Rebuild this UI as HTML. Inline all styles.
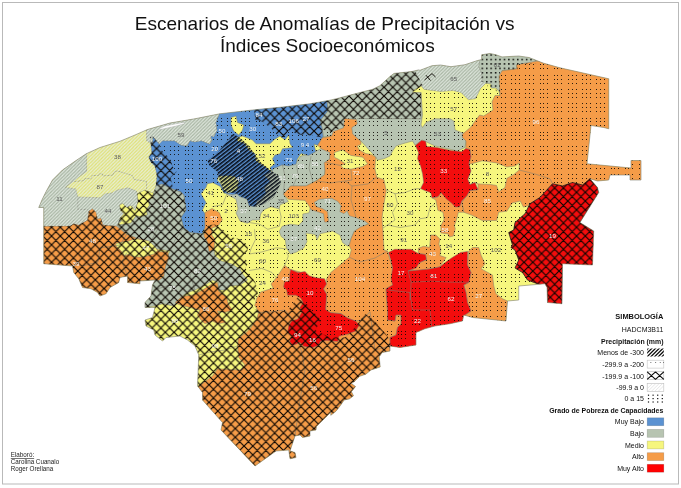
<!DOCTYPE html><html><head><meta charset="utf-8"><title>Mapa</title><style>
html,body{margin:0;padding:0;background:#fff;}body{width:681px;height:488px;overflow:hidden;position:relative;font-family:"Liberation Sans",sans-serif;}
svg{position:absolute;left:0;top:0;will-change:transform;opacity:0.999;}
text{font-family:"Liberation Sans",sans-serif;}
</style></head><body>
<svg width="681" height="488" viewBox="0 0 681 488">
<defs>
<pattern id="pDots" x="0" y="4" width="71" height="71" patternUnits="userSpaceOnUse"><path d="M0 0.5h1M4 0.5h1M8 0.5h1M14 0.5h1M18 0.5h1M22 0.5h1M28 0.5h1M32 0.5h1M36 0.5h1M43 0.5h1M46 0.5h1M50 0.5h1M57 0.5h1M60 0.5h1M64 0.5h1M0 4.5h1M4 4.5h1M8 4.5h1M14 4.5h1M18 4.5h1M22 4.5h1M28 4.5h1M32 4.5h1M36 4.5h1M43 4.5h1M46 4.5h1M50 4.5h1M57 4.5h1M60 4.5h1M64 4.5h1M0 8.5h1M4 8.5h1M8 8.5h1M14 8.5h1M18 8.5h1M22 8.5h1M28 8.5h1M32 8.5h1M36 8.5h1M43 8.5h1M46 8.5h1M50 8.5h1M57 8.5h1M60 8.5h1M64 8.5h1M0 14.5h1M4 14.5h1M8 14.5h1M14 14.5h1M18 14.5h1M22 14.5h1M28 14.5h1M32 14.5h1M36 14.5h1M43 14.5h1M46 14.5h1M50 14.5h1M57 14.5h1M60 14.5h1M64 14.5h1M0 18.5h1M4 18.5h1M8 18.5h1M14 18.5h1M18 18.5h1M22 18.5h1M28 18.5h1M32 18.5h1M36 18.5h1M43 18.5h1M46 18.5h1M50 18.5h1M57 18.5h1M60 18.5h1M64 18.5h1M0 22.5h1M4 22.5h1M8 22.5h1M14 22.5h1M18 22.5h1M22 22.5h1M28 22.5h1M32 22.5h1M36 22.5h1M43 22.5h1M46 22.5h1M50 22.5h1M57 22.5h1M60 22.5h1M64 22.5h1M0 28.5h1M4 28.5h1M8 28.5h1M14 28.5h1M18 28.5h1M22 28.5h1M28 28.5h1M32 28.5h1M36 28.5h1M43 28.5h1M46 28.5h1M50 28.5h1M57 28.5h1M60 28.5h1M64 28.5h1M0 32.5h1M4 32.5h1M8 32.5h1M14 32.5h1M18 32.5h1M22 32.5h1M28 32.5h1M32 32.5h1M36 32.5h1M43 32.5h1M46 32.5h1M50 32.5h1M57 32.5h1M60 32.5h1M64 32.5h1M0 36.5h1M4 36.5h1M8 36.5h1M14 36.5h1M18 36.5h1M22 36.5h1M28 36.5h1M32 36.5h1M36 36.5h1M43 36.5h1M46 36.5h1M50 36.5h1M57 36.5h1M60 36.5h1M64 36.5h1M0 43.5h1M4 43.5h1M8 43.5h1M14 43.5h1M18 43.5h1M22 43.5h1M28 43.5h1M32 43.5h1M36 43.5h1M43 43.5h1M46 43.5h1M50 43.5h1M57 43.5h1M60 43.5h1M64 43.5h1M0 46.5h1M4 46.5h1M8 46.5h1M14 46.5h1M18 46.5h1M22 46.5h1M28 46.5h1M32 46.5h1M36 46.5h1M43 46.5h1M46 46.5h1M50 46.5h1M57 46.5h1M60 46.5h1M64 46.5h1M0 50.5h1M4 50.5h1M8 50.5h1M14 50.5h1M18 50.5h1M22 50.5h1M28 50.5h1M32 50.5h1M36 50.5h1M43 50.5h1M46 50.5h1M50 50.5h1M57 50.5h1M60 50.5h1M64 50.5h1M0 57.5h1M4 57.5h1M8 57.5h1M14 57.5h1M18 57.5h1M22 57.5h1M28 57.5h1M32 57.5h1M36 57.5h1M43 57.5h1M46 57.5h1M50 57.5h1M57 57.5h1M60 57.5h1M64 57.5h1M0 60.5h1M4 60.5h1M8 60.5h1M14 60.5h1M18 60.5h1M22 60.5h1M28 60.5h1M32 60.5h1M36 60.5h1M43 60.5h1M46 60.5h1M50 60.5h1M57 60.5h1M60 60.5h1M64 60.5h1M0 64.5h1M4 64.5h1M8 64.5h1M14 64.5h1M18 64.5h1M22 64.5h1M28 64.5h1M32 64.5h1M36 64.5h1M43 64.5h1M46 64.5h1M50 64.5h1M57 64.5h1M60 64.5h1M64 64.5h1" stroke="#0e0a04" stroke-opacity="0.88" stroke-width="1" fill="none"/></pattern>
<pattern id="pBold" x="3.1" y="1.15" width="4.43" height="4.43" patternUnits="userSpaceOnUse"><rect x="0" y="0" width="1.5" height="1.5" fill="#0a0a08"/></pattern>
<pattern id="pDense" width="10" height="3" patternUnits="userSpaceOnUse" patternTransform="rotate(-38)"><rect x="0" y="0" width="10" height="1.6" fill="#060a14"/></pattern>
<pattern id="pCross" x="7.8" y="-0.2" width="8.75" height="8.75" patternUnits="userSpaceOnUse"><path d="M-1,1 L1,-1 M0,8.75 L8.75,0 M7.75,9.75 L9.75,7.75 M-1,7.75 L1,9.75 M0,0 L8.75,8.75 M7.75,-1 L9.75,1" stroke="#0a0400" stroke-width="1.16"/></pattern>
<pattern id="pLight" width="3.4" height="3.4" patternUnits="userSpaceOnUse"><path d="M-1,1 L1,-1 M0,3.4 L3.4,0 M2.4,4.4 L4.4,2.4" stroke="#e6ece4" stroke-opacity="0.88" stroke-width="1.25"/><path d="M0.7,-1 L-1,0.7 M1.7,3.4 L5.1,0 M-1.7,3.4 L1.7,0 M0,5.1 L3.4,1.7" stroke="#203020" stroke-opacity="0.11" stroke-width="1.15"/></pattern>
<clipPath id="crosszones"><polygon points="150,137 153,136.7 159.3,144 162.3,151 170.6,159.3 172.6,166.5 176.7,171.7 170.6,177.8 172.6,186 180.8,191.2 184,196.3 186,210 181,217.5 183.75,227.5 190,232.5 202.5,233.75 203,230 209,225 215,224.5 223.4,230 231.6,237.3 241.1,239.6 248.3,245.8 247.3,251 242.3,256.2 248.5,262.3 245.4,268.5 251.6,276.7 255.7,282.9 257.8,293.2 254.7,299.3 252.6,306.5 254.7,309.6 277.3,311.7 287.6,310.7 297.5,297.5 300.9,300.4 307.1,304.5 312.2,311.7 318.4,315.8 320.5,322 315,330 330,337.5 345,337.5 355,327.5 365,313.75 375,321 380,327.5 387.5,336 390,342.5 395,360 395,480 30,480 30,226 70,226 73.75,223.75 78.75,225 87.5,220 88.75,211 92.5,208.75 96.25,212.5 97.5,218.75 101,218 103,225 116.4,226 117.5,225 119.5,218.8 123.6,213.6 120.6,210.6 119.5,205.4 122.6,203.4 126.7,207.5 130.8,205.4 135,210.6 138,201.3 137,194 144.2,190 153.5,193 155.9,185.8 156.9,175.5 154.9,166.3 150.7,162 148.7,157 151.8,152.9 150.7,143.6"/><polygon points="254,100 254,110.4 255.4,120 262,121.4 271.6,128.8 278.2,136.1 284,138.3 288.5,130.2 298.7,134.6 310.5,135.4 319.3,136.8 322.3,137.8 322.3,129.5 331.5,132.3 333.4,130.4 343.5,126.8 344,118.5 357.3,118.5 421,118.75 421,92.5 412.5,92.5 422.5,85 417.5,76 415,70 415,60 253.75,60"/><polygon points="552.5,183.75 562.5,186 572.5,182.5 582.5,185 590,178.75 597.5,187.5 598.75,192.5 580,222.5 593.75,231 600,270 562.5,270 562,310 547.5,310 547,287.5 546,286 537.5,283.75 527.5,280 522.5,272.5 515,268 518.75,260 515,250 511,247.5 512.5,245 508.75,232.5 513.75,230 515,222.5 525,213.75 530,203.75 540,197.5"/></clipPath>
<clipPath id="state"><polygon points="38.75,207.5 42.5,198.75 46.25,191.25 52.5,180 62.5,170 75,161.25 86.25,153.75 100,147.5 120,141.25 135,135 147.5,129.5 170,123 195,118.75 220,113.75 252.5,110 282.5,107 310,103.75 330,100.2 337.6,98.4 355.2,93.8 372.9,89.2 379.9,85.7 390.5,76.1 394,73.4 411.6,71.6 418.7,69.9 420,70.3 432,65.7 440.5,65 451,66.7 465,64.7 477.5,60.5 481.7,59.5 481.7,54.8 490,53.4 496,54.8 502,56.9 518.7,56 529,57.5 543,63 560,67.8 608.75,78.75 608.75,128.75 603.75,127.5 591,125.5 587,163.75 631,168 631,160.5 641,160.5 641,180 630,180 630,175 610,175 608.75,180 597.5,181 590,178.75 597.5,187.5 598.75,192.5 580,222.5 593.75,231 592.5,265 562.5,263.75 562,303.75 547.5,302.5 547,287.5 545,283.75 518.75,286 518.75,300 507.5,301 506,321 472.5,317.5 463.75,315 462.5,321 450,323.75 435,326 425,328.75 416,332.5 416,345 400,347.5 390,346 390,351 382.2,352.6 379.2,356.7 380.2,367 370.9,370 365.8,374.2 359.6,376.3 354.5,381.4 351.4,383.5 355.5,386.5 351.4,391.7 353.5,395.8 349.3,398.9 344.2,400 340,406 336,411.2 330.8,415.3 330.8,412.2 316.4,426.6 316,430 310,431 310,436 302.5,437.5 300,435 295,436 290,451 295,452.5 296,457.5 290,458.75 288.75,450 276,451 255,466 221,430 222.5,422.5 202.5,400 202.5,392.5 198.75,387.5 197.5,386 198.75,355 195,346 187.5,340 180,336 166,337.5 162.5,341 155,335 153.75,330 146,326 145,320 152.5,317.5 155,307.5 145,307.5 145,302.5 151,296 152.5,285 155,280 140,281 140,283.75 127.5,282.5 127.5,276 120,277.5 118.75,282.5 110,287.5 106,293.75 100,296 97.5,292.5 91,288.75 82.5,287.5 78.75,278.75 73.75,272.5 72.5,266 43.75,263.75 43.75,207.5"/></clipPath>
<mask id="dotmask" maskUnits="userSpaceOnUse" x="0" y="0" width="681" height="488"><rect x="0" y="0" width="681" height="488" fill="#fff"/>
<polygon points="30,100 219,100 218.9,115.1 215.8,122.3 216.8,130.6 213.7,136.7 210.6,135.7 211.7,140.8 209.6,143.9 201.4,140.8 194.2,141.9 190,140.8 187,146 180.8,145 174.7,140.8 162.3,140.8 159.3,143.9 153,136.7 152,145 150.7,143.6 151.8,152.9 148.7,157 150.7,162 154.9,166.3 156.9,175.5 155.9,185.8 153.5,193 144.2,190 137,194 138,201.3 135,210.6 130.8,205.4 126.7,207.5 122.6,203.4 119.5,205.4 120.6,210.6 123.6,213.6 119.5,218.8 117.5,225 116.4,226 103,225 101,218 97.5,218.75 96.25,212.5 92.5,208.75 88.75,211 87.5,220 78.75,225 73.75,223.75 70,226 30,226" fill="#000"/>
<polygon points="415,60 415,70 417.5,76 422.5,85 420,84.2 424,89.3 440.5,91.4 453,90.4 461,92.4 468.3,99.6 475.5,98.6 480.6,88.3 485.8,83.2 481.7,81 481.7,73 478.6,66.7 479.6,60.5 481.7,54.8 481,50" fill="#000"/>
<polygon points="233.2,133.8 239.7,137.5 248,145 253.5,152.3 260.9,162.4 269.2,168.9 273.8,172.6 278.4,175.4 281.2,182.7 277.5,190 273.8,197.5 264.6,204 255.4,206.7 249.8,205.8 247,199.3 236.9,193.8 227.7,192 224,193.8 221.2,184.6 218.5,177.2 217.5,171.7 209.2,165.2 207.4,160.6 218.5,151.4 227.7,140.3" fill="#000"/>
<polygon points="150,137 153,136.7 159.3,144 162.3,151 170.6,159.3 172.6,166.5 176.7,171.7 170.6,177.8 172.6,186 180.8,191.2 184,196.3 186,210 181,217.5 183.75,227.5 190,232.5 202.5,233.75 203,230 209,225 215,224.5 223.4,230 231.6,237.3 241.1,239.6 248.3,245.8 247.3,251 242.3,256.2 248.5,262.3 245.4,268.5 251.6,276.7 255.7,282.9 257.8,293.2 254.7,299.3 252.6,306.5 254.7,309.6 277.3,311.7 287.6,310.7 297.5,297.5 300.9,300.4 307.1,304.5 312.2,311.7 318.4,315.8 320.5,322 315,330 330,337.5 345,337.5 355,327.5 365,313.75 375,321 380,327.5 387.5,336 390,342.5 395,360 395,480 30,480 30,226 70,226 73.75,223.75 78.75,225 87.5,220 88.75,211 92.5,208.75 96.25,212.5 97.5,218.75 101,218 103,225 116.4,226 117.5,225 119.5,218.8 123.6,213.6 120.6,210.6 119.5,205.4 122.6,203.4 126.7,207.5 130.8,205.4 135,210.6 138,201.3 137,194 144.2,190 153.5,193 155.9,185.8 156.9,175.5 154.9,166.3 150.7,162 148.7,157 151.8,152.9 150.7,143.6" fill="#000"/>
<polygon points="254,100 254,110.4 255.4,120 262,121.4 271.6,128.8 278.2,136.1 284,138.3 288.5,130.2 298.7,134.6 310.5,135.4 319.3,136.8 322.3,137.8 322.3,129.5 331.5,132.3 333.4,130.4 343.5,126.8 344,118.5 357.3,118.5 421,118.75 421,92.5 412.5,92.5 422.5,85 417.5,76 415,70 415,60 253.75,60" fill="#000"/>
<polygon points="552.5,183.75 562.5,186 572.5,182.5 582.5,185 590,178.75 597.5,187.5 598.75,192.5 580,222.5 593.75,231 600,270 562.5,270 562,310 547.5,310 547,287.5 546,286 537.5,283.75 527.5,280 522.5,272.5 515,268 518.75,260 515,250 511,247.5 512.5,245 508.75,232.5 513.75,230 515,222.5 525,213.75 530,203.75 540,197.5" fill="#000"/>
<polygon points="481.7,50 545,50 543.7,62.8 517.9,64 517.3,70.2 500.1,71.4 499.5,76.9 500.1,94.1 496.4,91.7 494.6,87.4 490.9,86.8 488.4,88 486,83.1 481.1,81.9 481.1,74.5 479.8,67.1 479.2,61" fill="#000"/>
</mask>
</defs>
<rect x="0" y="0" width="681" height="488" fill="#ffffff"/>
<rect x="2.5" y="2.5" width="676" height="481.5" fill="none" stroke="#b9b9b9" stroke-width="1"/>
<polygon points="38.75,207.5 42.5,198.75 46.25,191.25 52.5,180 62.5,170 75,161.25 86.25,153.75 100,147.5 120,141.25 135,135 147.5,129.5 170,123 195,118.75 220,113.75 252.5,110 282.5,107 310,103.75 330,100.2 337.6,98.4 355.2,93.8 372.9,89.2 379.9,85.7 390.5,76.1 394,73.4 411.6,71.6 418.7,69.9 420,70.3 432,65.7 440.5,65 451,66.7 465,64.7 477.5,60.5 481.7,59.5 481.7,54.8 490,53.4 496,54.8 502,56.9 518.7,56 529,57.5 543,63 560,67.8 608.75,78.75 608.75,128.75 603.75,127.5 591,125.5 587,163.75 631,168 631,160.5 641,160.5 641,180 630,180 630,175 610,175 608.75,180 597.5,181 590,178.75 597.5,187.5 598.75,192.5 580,222.5 593.75,231 592.5,265 562.5,263.75 562,303.75 547.5,302.5 547,287.5 545,283.75 518.75,286 518.75,300 507.5,301 506,321 472.5,317.5 463.75,315 462.5,321 450,323.75 435,326 425,328.75 416,332.5 416,345 400,347.5 390,346 390,351 382.2,352.6 379.2,356.7 380.2,367 370.9,370 365.8,374.2 359.6,376.3 354.5,381.4 351.4,383.5 355.5,386.5 351.4,391.7 353.5,395.8 349.3,398.9 344.2,400 340,406 336,411.2 330.8,415.3 330.8,412.2 316.4,426.6 316,430 310,431 310,436 302.5,437.5 300,435 295,436 290,451 295,452.5 296,457.5 290,458.75 288.75,450 276,451 255,466 221,430 222.5,422.5 202.5,400 202.5,392.5 198.75,387.5 197.5,386 198.75,355 195,346 187.5,340 180,336 166,337.5 162.5,341 155,335 153.75,330 146,326 145,320 152.5,317.5 155,307.5 145,307.5 145,302.5 151,296 152.5,285 155,280 140,281 140,283.75 127.5,282.5 127.5,276 120,277.5 118.75,282.5 110,287.5 106,293.75 100,296 97.5,292.5 91,288.75 82.5,287.5 78.75,278.75 73.75,272.5 72.5,266 43.75,263.75 43.75,207.5" fill="#f6f67e"/>
<g clip-path="url(#state)" stroke="#7d7d70" stroke-width="0.5" stroke-linejoin="round">
<polygon points="146.6,125 218.9,110 218.9,115.1 215.8,122.3 216.8,130.6 213.7,136.7 210.6,135.7 211.7,140.8 209.6,143.9 201.4,140.8 194.2,141.9 190,140.8 187,146 180.8,145 174.7,140.8 162.3,140.8 159.3,143.9 153,136.7 152,145 150.7,143.6 146.6,140.6" fill="#b7c4b1"/>
<polygon points="86.6,150 86.6,171.4 80.8,175.5 72.6,181.7 65.4,187.4 75.7,188.9 77.8,197 100.4,197.7 104.5,194 111.7,193 117.8,190 128,187.8 136.3,191 137.4,194 138.4,202.2 136.3,210.5 132.2,205.3 127,207.4 123,203.3 119.9,204.3 120,210 125,213.75 122.5,220 117.5,225 125,232.5 102.5,240 43.75,240 30,240 30,150" fill="#b7c4b1"/>
<polygon points="155.9,185.8 157.5,185 163.75,180 171,187.5 183.75,193.75 184,195 186,210 181,217.5 183.75,227.5 190,232.5 202.5,233.75 210,236 208.75,245 212.5,250 214,249.6 215,255.8 221.3,261 231.6,264 240,269 242.5,273.75 247.5,280 240,285 230,286 226,290 217.5,290 218.75,282.5 212.5,280 205,285 195,290 187.5,292.5 182.5,296 177.5,301 173.75,306 162.5,303.75 155,306 140,308 140,285 155,280 163.75,277.5 165,262.5 170,251 156,248.75 150,242.5 142.5,242.5 137.5,240 131,236 125,232.5 117.5,225 125.7,223.9 130.8,222.9 136,215.7 141,216.7 147.3,214.7 146.3,209.5 149.3,205.4 148.3,199.3 152.4,198.2 153.5,193" fill="#b7c4b1"/>
<polygon points="119.5,205.4 122.6,203.4 126.7,207.5 130.8,205.4 135,210.6 138,201.3 137,194 144.2,190 153.5,193 152.4,198.2 148.3,199.3 149.3,205.4 146.3,209.5 147.3,214.7 141,216.7 136,215.7 130.8,222.9 125.7,223.9 119.5,218.8 123.6,213.6 120.6,210.6" fill="#f6f67e"/>
<polygon points="322.5,90 327,100 327.8,111 320.4,120.3 322.3,129.5 323.2,137 331.5,136 340,135 360,140 375.8,157.2 377.5,160 383.75,158.75 390,156 392.5,151 396,146 402.5,143.75 412.5,141 415,145 422.5,140 435,146 447.5,148.75 457.5,151 465,147.5 466,141 462.5,137.5 465,133.75 455,130 453.75,121 450,118.75 435,118.75 426,122.5 422.5,127.5 421,125 422.5,115 421,92.5 412.5,92.5 413.75,90 422.5,85 420,84.2 424,89.3 440.5,91.4 453,90.4 461,92.4 468.3,99.6 475.5,98.6 480.6,88.3 485.8,83.2 491,84 491,88 496,88 499,91.4 500,95.5 505,80 502,70.8 516.6,68.8 516.6,64.7 543.4,63 560,50 322.5,50" fill="#b7c4b1"/>
<polygon points="226.7,194.4 230.8,190 240,185 270,165 282,160 296.7,162 300.8,156 311,154 322,148 330,152 330,160 325.5,162.3 324.5,174.7 316.3,180.8 306,186 290.6,186 283.4,194.2 288.4,201.6 280.2,204.7 279.2,208.8 270.9,206.7 263.7,209.8 260.6,214 259.6,220 252.4,220 247.3,223.2 240,221 236,212.9 238,208.8 236,199.5 235,198.5" fill="#b7c4b1"/>
<polygon points="279.2,231.4 282.2,226.3 290.5,224.2 298.7,225.2 303,221 302.8,214 309,212.9 311,205 315,198 335,197 345,205 350,212 370,222 362,228 354.3,231.2 351.2,238.4 349.2,245.6 347.5,246 342.5,242.5 340,235 332.5,231 320,233.75 317.2,239.6 315.1,234.5 306,233 306.9,241.7 303.8,247.8 296.6,252 290.5,254 286.3,247.8 285.3,239.6 281.2,236.5" fill="#b7c4b1"/>
<polygon points="218.9,105 322.5,92 327,100 327.8,111 320.4,120.3 322.3,129.5 323.2,137 317.7,145.2 314,144.3 315.8,151.7 308.5,155.4 301,153.5 297.4,159 296,164.3 288.6,166 282,165 272.9,168.9 272,171.7 264.6,175.4 270.1,180.9 264.6,188.3 266.4,193.8 260.9,199.3 257.2,201.2 255.4,206.7 248.9,205.8 247,199.3 239.7,196.6 236.9,193.8 232.3,194.7 224,192.9 220.3,186.4 212.9,182.7 207.4,183.7 206,187.5 201,193.75 206,202.5 202.5,210 205,213.75 205,227.5 202.5,233.75 190,232.5 183.75,227.5 181,217.5 186,210 184,195 180.8,192 172.6,189 162,184 155.9,185.8 156.9,175.5 154.9,166.3 150.7,162 148.7,157 151.8,152.9 150.7,143.6 152,145 153,136.7 159.3,143.9 162.3,140.8 174.7,140.8 180.8,145 187,146 190,140.8 194.2,141.9 201.4,140.8 209.6,143.9 211.7,140.8 210.6,135.7 213.7,136.7 216.8,130.6 215.8,122.3 218.9,115.1" fill="#5b92d2"/>
<polygon points="43.75,226.25 70,226 73.75,223.75 78.75,225 87.5,220 88.75,211 92.5,208.75 96.25,212.5 97.5,218.75 101,218 103,225 116.4,226 126.7,234.2 137,238.3 147.3,240.4 153.5,245.5 159.6,251.7 167.8,251.7 168.9,257.8 165.8,266 163.7,276.3 158.6,280.5 155,280 140,281 140,300 40,300 40,226" fill="#f59c48"/>
<polygon points="204.9,212.6 212,208.5 219.3,212.6 222.3,219.8 218.2,226 212,228 212,235.2 215,239.3 214,249.6 209,251.7 207,241.4 203.8,236.3 205,227.5 205,213.75" fill="#f59c48"/>
<polygon points="175,302.5 182.5,296.25 192.5,295 202.5,290 212.5,283.75 217.5,282.5 218.75,291.25 226.25,296.25 228.75,305 232.5,310 225,312.5 217.5,311 221,317.5 226,322.5 217.5,323.75 212.5,321 205,323.75 201,320 197.5,315 200,310 190,307.5 180,305" fill="#f59c48"/>
<polygon points="284.5,265.4 276.3,277.8 271,284 273.2,288 260.8,292 256.7,298.3 254.7,305.5 258.8,311.7 256.7,318.9 250.6,328 246.4,332.2 238.2,338.4 237.5,346 238.75,357.5 245,365 240,370 217.5,368.75 212.5,376 198.75,386 190,390 190,480 420,480 420,330 390,337.5 370,311.7 361.6,320 355.4,321 347.2,317.8 341,313.7 330.7,312.7 325.6,309.6 326.6,294.2 300,272 290.6,269.5" fill="#f59c48"/>
<polygon points="344.4,118.5 356.4,119.4 357.3,124 351.8,127.7 352.7,134 361,141.5 361,144.3 357.3,146 359.2,149.8 365.6,153.5 371.2,154.4 375.8,157.2 374.9,168.3 376.7,177 384,179.8 386.2,191 384,203.5 382,217.8 383,232 384,250 387.5,251 390,260 392.5,267.5 392.5,285 386,288.75 387.5,310 387.5,320 395,321 396,315 401,315 401,323.75 397.5,327.5 396,335 390,337.5 390,346 375,350 370,311.7 361.6,320 355.4,321 347.2,317.8 341,313.7 330.7,312.7 325.6,309.6 326.6,294.2 323.5,289 326.6,284 326.6,278.8 330.7,272.6 336.9,267.5 349.2,257.2 351.3,250 349.2,245.6 351.2,238.4 354.3,231.2 360.5,227 368.7,224 364.6,221 356.4,217.8 349.2,215.8 347,210.6 344,213.7 339.9,211.7 341,205.5 337.8,201.4 331.7,198.3 319.3,199.3 314.2,202.4 316.3,206.5 322.4,208.6 327.6,211.7 328.6,222 324.5,222 323.5,213.7 317.3,211.7 311,209.6 308,204.5 305,200.4 288.5,199.3 283.4,194.2 290.6,186 306,186 316.3,180.8 324.5,174.7 325,171 324.1,162.7 329.7,159 329.7,152.6 321.4,148.9 317.7,145.2 322.3,137.8 331.5,136 333.4,131.4 343.5,127.7" fill="#f59c48"/>
<polygon points="516.6,64.7 543.4,60 620,70 650,120 650,185 610,185 597.5,181 597.5,192 552.5,192 552.5,183.75 540,197.5 530,203.75 527.5,206 523.4,207.1 520.3,201 512.1,203 506.9,211.2 498.7,212.2 496.6,220.5 482.2,220.5 472,215.3 463.7,212.2 461.7,202 466.8,195.8 469.9,190.6 478.1,189.6 478.1,183.9 475,182.4 469.9,184.5 467.8,179.3 470.9,171 468.9,163.9 470.9,156.7 469.9,149.5 465.8,148.5 466,141 462.5,137.5 462,134.6 470.4,127.4 479.6,115 483.7,116 493,110 492,101.7 495,95.5 500,95.5 499,76 502,70.8 516.6,68.8" fill="#f59c48"/>
<polygon points="431.9,197.8 438,196.8 441.1,192.7 470,190 466.8,195.8 461.7,202 463.7,212.2 458.4,212.3 456.3,220.5 454.3,225.7 455.3,228.8 453.3,236 449.2,237 448.1,233.9 440.9,232.9 440.9,225.7 444,219.5 443,212.3 437.8,210.3 435.8,200" fill="#f59c48"/>
<polygon points="418.3,248.3 423.5,246.3 429.6,247.3 430.7,235 435.8,235 439.9,239 438.9,244.2 440.9,249.3 439.9,255.5 446.1,257.6 439.9,266.8 429.6,268.9 419.3,270.5 408,271 416.3,267.8 419.3,262.7 426.5,259.6 425.5,254.5 418.3,253.5" fill="#f59c48"/>
<polygon points="468.75,251 472.5,247.5 478.75,247.5 481,255 485,263.75 481,268.75 492.5,275 493.75,286 496,293.75 502.5,298.75 507.5,301 506,325 462.5,325 465,315 471,311 467.5,302.5 466,292.5 463.75,285 468.75,282.5 471,272.5 467.5,265" fill="#f59c48"/>
<polygon points="218.3,176.3 225.5,175.7 234.7,176.3 238.8,181.4 236.7,190.6 228.5,193.1 223.4,189.6 220.4,183.4 217.3,180.4" fill="#dbe28e"/>
<polygon points="237.5,137.5 242.5,136 252.5,140 256,143.75 270,143.75 273.75,140 280,136 285,140 288.75,135 290,143.75 292.5,147.5 282.5,148.75 280,153.75 275,155 272.5,158.75 275,163.75 270,167.5 272.5,172.5 263.75,166 256,161 255,153.75 248.75,150 245,143.75 237.5,141" fill="#f6f67e"/>
<polygon points="231,117.5 236,116 237.5,122.5 243.75,125 242.5,130 238.75,135 233.75,131 231,125" fill="#f6f67e"/>
<polygon points="334.3,152.6 342.6,149.8 350.9,155.4 362.9,157.2 367.5,163.7 362.9,166.4 350.9,169.2 343.5,168.3 340.7,165.5 345.4,163.7 338,159 334.3,157.2" fill="#f6f67e"/>
<polygon points="116,243.4 123,242 129,241 135.6,238.5 140.5,239.7 149.1,241 155.3,247 157.7,250.8 154,253.9 143,257 134.4,257 128.3,254.5 124.6,255.7 120.9,250.8 116,245.9" fill="#f6f67e"/>
<polygon points="470.9,163.9 482.2,160.8 496.6,162.9 506.9,167 515.1,166 519.2,162.9 519.2,170 514.1,174.2 506.9,178.3 504.9,187.6 498.7,191.7 496.6,185.5 490.5,184.5 478.1,183.9 475,182.4 469.9,184.5 467.8,179.3 470.9,171 468.9,163.9" fill="#f6f67e"/>
<polygon points="552.5,183.75 562.5,186 572.5,182.5 582.5,185 590,178.75 597.5,187.5 598.75,192.5 580,222.5 593.75,231 600,270 562.5,270 562,310 547.5,310 547,287.5 546,286 537.5,283.75 527.5,280 522.5,272.5 515,268 518.75,260 515,250 511,247.5 512.5,245 508.75,232.5 513.75,230 515,222.5 525,213.75 530,203.75 540,197.5" fill="#f30d0d"/>
<polygon points="415.4,145.4 421.6,140.3 425.7,141.3 426.7,146.4 437,147.5 451.4,150.6 461.7,151.6 465.8,148.5 469.9,149.5 470.9,156.7 468.9,163.9 470.9,171 467.8,179.3 469.9,184.5 475,182.4 478.1,189.6 469.9,190.6 466.8,195.8 461.7,201 459.6,207 455.5,207 451.4,203 446.3,198.9 441.1,192.7 438,196.8 431.9,197.8 430.8,192.7 424.7,190.6 420.6,188.6 423.6,182.4 422.6,174.2 420.6,166 417.5,158.8 418.5,152.6" fill="#f30d0d"/>
<polygon points="388.5,252.4 394.7,249.3 411.1,249.3 418.3,253.5 425.5,254.5 426.5,259.6 419.3,262.7 416.3,267.8 408,271 419.3,270 429.6,268.9 439.9,266.8 446.1,261.7 452.2,257.6 460.5,252.4 467.7,251.4 467.5,265 471,272.5 468.75,282.5 463.75,285 466,292.5 467.5,302.5 471,311 465,315 462.5,325 440,330 416,350 390,352 390,337.5 396,335 397.5,327.5 401,323.75 401,315 396,315 395,321 387.5,320 387.5,310 386,288.75 392.5,285 391,278.75 392.6,267.8 390.6,259.6" fill="#f30d0d"/>
<polygon points="290.6,269.5 297.8,272.6 305,271.6 309.2,275.7 316.3,277.8 324.6,278.8 326.6,284 323.5,289 326.6,294.2 325.6,309.6 330.7,312.7 341,313.7 347.2,317.8 355.4,321 359.5,325 355.4,331.2 347.2,334.3 339,336.3 337.9,341.5 326.6,340.5 320.5,341.5 318.4,345.6 312.2,347.7 304,346.6 299.9,342.5 292.7,345.6 289.6,341.5 291.7,336.3 287.6,332.2 288.6,326 291.7,321 297.8,318.9 302,311.7 299.9,307.6 303,302.4 300.9,298.3 295.8,295.2 287.6,295.2 286.5,290 283.5,287 284.5,281.9 289.6,280.8 289.6,274.7" fill="#f30d0d"/>
</g>
<g clip-path="url(#state)" fill="none" stroke="#7d7d70" stroke-width="0.6" stroke-opacity="0.9">
<polyline points="72.6,181.7 83.9,180.6 85,178.6 91.1,178.6 92.1,175.5 98.3,175.5 99.3,173.9 102.4,173.9 103,175.9 112.7,175.1 114.8,171.4 117.8,171 132.2,175.5 134.3,179.6 142.5,180.6 146.6,181.7 146.6,188.9"/>
<polyline points="77.8,197 77.8,209.4 88,209.4"/>
<polyline points="212.3,206.7 222.6,204.7 226.7,194.4"/>
<polyline points="279.2,208.8 281.2,217 279.2,226.3"/>
<polyline points="240,221 259.6,224.2 267.8,229.3 279.2,226.3"/>
<polyline points="254.5,229.3 255.5,239.6 251.4,247.8 249.3,254"/>
<polyline points="249.3,254 261.7,252 276.1,247.8 286.3,248.9"/>
<polyline points="286.3,252 288.4,256 284.3,266.3"/>
<polyline points="249.3,270.5 261.7,268.4 272,272.5 276.3,277.8"/>
<polyline points="386.25,190 395,193.75 405,192.5 415,188.75 420.6,188.6"/>
<polyline points="395,193.75 397.5,203.75 392.5,212.5 395,220 387.5,225 383,228"/>
<polyline points="387.5,225 400,227.5 415,225 420,218.75 427.5,217.5 430,207.5 435,203.75"/>
<polyline points="408,271 411.1,282.2 410.1,300 410,292.5 387.5,290"/>
<polyline points="411.1,282.2 431.7,281.2 452.2,282.2 468.7,282.2"/>
<polyline points="410,292.5 412.5,310 430,310 432,330"/>
<polyline points="519.2,170 535,174 550,178.75 552.5,183.75"/>
<polyline points="316.3,180.8 330,183 345,181 352,186 351,200 356,217"/>
<polyline points="352,186 368,184 376.7,177"/>
<polyline points="349.2,257.2 360,262 375,258 387.5,251"/>
<polyline points="325.5,162.3 340.7,165.5"/>
<polyline points="350.9,169.2 352,180 345,181"/>
<polyline points="296.7,165.4 298,175 293,186"/>
<polyline points="311,156.2 309,168 313,182"/>
<polyline points="282.3,164.4 285,176 283.4,194.2"/>
<polyline points="126.7,234.2 120,245 100,248 98,262 82.5,266"/>
<polyline points="126.7,252.7 122,262 127.5,276"/>
<polyline points="153.75,290 170,285 182.5,296"/>
<polyline points="165,206 160,225 150,242.5"/>
<polyline points="183.75,227.5 175,240 170,251"/>
<polyline points="214,249.6 200,262 190,275 195,290"/>
<polyline points="256,312.5 270,312 285,310 292.7,320"/>
<polyline points="300,345 305,370 300,400 295,436"/>
<polyline points="237.5,346 225,350 210,352 198.75,355"/>
<polyline points="421,92.5 421,118.75"/>
<polyline points="421,118.75 357.3,118.5"/>
<polyline points="481.7,81 481.7,73 478.6,66.7 479.6,60.5"/>
</g>
<g mask="url(#dotmask)"><polygon points="38.75,207.5 42.5,198.75 46.25,191.25 52.5,180 62.5,170 75,161.25 86.25,153.75 100,147.5 120,141.25 135,135 147.5,129.5 170,123 195,118.75 220,113.75 252.5,110 282.5,107 310,103.75 330,100.2 337.6,98.4 355.2,93.8 372.9,89.2 379.9,85.7 390.5,76.1 394,73.4 411.6,71.6 418.7,69.9 420,70.3 432,65.7 440.5,65 451,66.7 465,64.7 477.5,60.5 481.7,59.5 481.7,54.8 490,53.4 496,54.8 502,56.9 518.7,56 529,57.5 543,63 560,67.8 608.75,78.75 608.75,128.75 603.75,127.5 591,125.5 587,163.75 631,168 631,160.5 641,160.5 641,180 630,180 630,175 610,175 608.75,180 597.5,181 590,178.75 597.5,187.5 598.75,192.5 580,222.5 593.75,231 592.5,265 562.5,263.75 562,303.75 547.5,302.5 547,287.5 545,283.75 518.75,286 518.75,300 507.5,301 506,321 472.5,317.5 463.75,315 462.5,321 450,323.75 435,326 425,328.75 416,332.5 416,345 400,347.5 390,346 390,351 382.2,352.6 379.2,356.7 380.2,367 370.9,370 365.8,374.2 359.6,376.3 354.5,381.4 351.4,383.5 355.5,386.5 351.4,391.7 353.5,395.8 349.3,398.9 344.2,400 340,406 336,411.2 330.8,415.3 330.8,412.2 316.4,426.6 316,430 310,431 310,436 302.5,437.5 300,435 295,436 290,451 295,452.5 296,457.5 290,458.75 288.75,450 276,451 255,466 221,430 222.5,422.5 202.5,400 202.5,392.5 198.75,387.5 197.5,386 198.75,355 195,346 187.5,340 180,336 166,337.5 162.5,341 155,335 153.75,330 146,326 145,320 152.5,317.5 155,307.5 145,307.5 145,302.5 151,296 152.5,285 155,280 140,281 140,283.75 127.5,282.5 127.5,276 120,277.5 118.75,282.5 110,287.5 106,293.75 100,296 97.5,292.5 91,288.75 82.5,287.5 78.75,278.75 73.75,272.5 72.5,266 43.75,263.75 43.75,207.5" fill="url(#pDots)"/></g>
<g clip-path="url(#state)" stroke="none">
<polygon points="481.7,50 545,50 543.7,62.8 517.9,64 517.3,70.2 500.1,71.4 499.5,76.9 500.1,94.1 496.4,91.7 494.6,87.4 490.9,86.8 488.4,88 486,83.1 481.1,81.9 481.1,74.5 479.8,67.1 479.2,61" fill="url(#pBold)"/>
<polygon points="30,100 219,100 218.9,115.1 215.8,122.3 216.8,130.6 213.7,136.7 210.6,135.7 211.7,140.8 209.6,143.9 201.4,140.8 194.2,141.9 190,140.8 187,146 180.8,145 174.7,140.8 162.3,140.8 159.3,143.9 153,136.7 152,145 150.7,143.6 151.8,152.9 148.7,157 150.7,162 154.9,166.3 156.9,175.5 155.9,185.8 153.5,193 144.2,190 137,194 138,201.3 135,210.6 130.8,205.4 126.7,207.5 122.6,203.4 119.5,205.4 120.6,210.6 123.6,213.6 119.5,218.8 117.5,225 116.4,226 103,225 101,218 97.5,218.75 96.25,212.5 92.5,208.75 88.75,211 87.5,220 78.75,225 73.75,223.75 70,226 30,226" fill="url(#pLight)"/>
<polygon points="415,60 415,70 417.5,76 422.5,85 420,84.2 424,89.3 440.5,91.4 453,90.4 461,92.4 468.3,99.6 475.5,98.6 480.6,88.3 485.8,83.2 481.7,81 481.7,73 478.6,66.7 479.6,60.5 481.7,54.8 481,50" fill="url(#pLight)"/>
<polygon points="233.2,133.8 239.7,137.5 248,145 253.5,152.3 260.9,162.4 269.2,168.9 273.8,172.6 278.4,175.4 281.2,182.7 277.5,190 273.8,197.5 264.6,204 255.4,206.7 249.8,205.8 247,199.3 236.9,193.8 227.7,192 224,193.8 221.2,184.6 218.5,177.2 217.5,171.7 209.2,165.2 207.4,160.6 218.5,151.4 227.7,140.3" fill="url(#pDense)"/>
<polygon points="150,137 153,136.7 159.3,144 162.3,151 170.6,159.3 172.6,166.5 176.7,171.7 170.6,177.8 172.6,186 180.8,191.2 184,196.3 186,210 181,217.5 183.75,227.5 190,232.5 202.5,233.75 203,230 209,225 215,224.5 223.4,230 231.6,237.3 241.1,239.6 248.3,245.8 247.3,251 242.3,256.2 248.5,262.3 245.4,268.5 251.6,276.7 255.7,282.9 257.8,293.2 254.7,299.3 252.6,306.5 254.7,309.6 277.3,311.7 287.6,310.7 297.5,297.5 300.9,300.4 307.1,304.5 312.2,311.7 318.4,315.8 320.5,322 315,330 330,337.5 345,337.5 355,327.5 365,313.75 375,321 380,327.5 387.5,336 390,342.5 395,360 395,480 30,480 30,226 70,226 73.75,223.75 78.75,225 87.5,220 88.75,211 92.5,208.75 96.25,212.5 97.5,218.75 101,218 103,225 116.4,226 117.5,225 119.5,218.8 123.6,213.6 120.6,210.6 119.5,205.4 122.6,203.4 126.7,207.5 130.8,205.4 135,210.6 138,201.3 137,194 144.2,190 153.5,193 155.9,185.8 156.9,175.5 154.9,166.3 150.7,162 148.7,157 151.8,152.9 150.7,143.6" fill="url(#pCross)"/>
<polygon points="254,100 254,110.4 255.4,120 262,121.4 271.6,128.8 278.2,136.1 284,138.3 288.5,130.2 298.7,134.6 310.5,135.4 319.3,136.8 322.3,137.8 322.3,129.5 331.5,132.3 333.4,130.4 343.5,126.8 344,118.5 357.3,118.5 421,118.75 421,92.5 412.5,92.5 422.5,85 417.5,76 415,70 415,60 253.75,60" fill="url(#pCross)"/>
<polygon points="552.5,183.75 562.5,186 572.5,182.5 582.5,185 590,178.75 597.5,187.5 598.75,192.5 580,222.5 593.75,231 600,270 562.5,270 562,310 547.5,310 547,287.5 546,286 537.5,283.75 527.5,280 522.5,272.5 515,268 518.75,260 515,250 511,247.5 512.5,245 508.75,232.5 513.75,230 515,222.5 525,213.75 530,203.75 540,197.5" fill="url(#pCross)" stroke="#0a0400" stroke-width="0.6"/>
</g>
<path d="M424.5,80 L432,73.6 L435.5,77 M426,75.2 L430.5,80.5" fill="none" stroke="#0a0400" stroke-width="0.9"/>
<polygon points="159.5,128.6 165,126 175,124.1 184,122.4 184.6,123.6 176,126 166,128.2 160,129.6" fill="#fff" stroke="#999" stroke-width="0.3"/>
<polygon points="38.75,207.5 42.5,198.75 46.25,191.25 52.5,180 62.5,170 75,161.25 86.25,153.75 100,147.5 120,141.25 135,135 147.5,129.5 170,123 195,118.75 220,113.75 252.5,110 282.5,107 310,103.75 330,100.2 337.6,98.4 355.2,93.8 372.9,89.2 379.9,85.7 390.5,76.1 394,73.4 411.6,71.6 418.7,69.9 420,70.3 432,65.7 440.5,65 451,66.7 465,64.7 477.5,60.5 481.7,59.5 481.7,54.8 490,53.4 496,54.8 502,56.9 518.7,56 529,57.5 543,63 560,67.8 608.75,78.75 608.75,128.75 603.75,127.5 591,125.5 587,163.75 631,168 631,160.5 641,160.5 641,180 630,180 630,175 610,175 608.75,180 597.5,181 590,178.75 597.5,187.5 598.75,192.5 580,222.5 593.75,231 592.5,265 562.5,263.75 562,303.75 547.5,302.5 547,287.5 545,283.75 518.75,286 518.75,300 507.5,301 506,321 472.5,317.5 463.75,315 462.5,321 450,323.75 435,326 425,328.75 416,332.5 416,345 400,347.5 390,346 390,351 382.2,352.6 379.2,356.7 380.2,367 370.9,370 365.8,374.2 359.6,376.3 354.5,381.4 351.4,383.5 355.5,386.5 351.4,391.7 353.5,395.8 349.3,398.9 344.2,400 340,406 336,411.2 330.8,415.3 330.8,412.2 316.4,426.6 316,430 310,431 310,436 302.5,437.5 300,435 295,436 290,451 295,452.5 296,457.5 290,458.75 288.75,450 276,451 255,466 221,430 222.5,422.5 202.5,400 202.5,392.5 198.75,387.5 197.5,386 198.75,355 195,346 187.5,340 180,336 166,337.5 162.5,341 155,335 153.75,330 146,326 145,320 152.5,317.5 155,307.5 145,307.5 145,302.5 151,296 152.5,285 155,280 140,281 140,283.75 127.5,282.5 127.5,276 120,277.5 118.75,282.5 110,287.5 106,293.75 100,296 97.5,292.5 91,288.75 82.5,287.5 78.75,278.75 73.75,272.5 72.5,266 43.75,263.75 43.75,207.5" fill="none" stroke="#7d7d70" stroke-width="0.6"/>
<g font-size="6.2" text-anchor="middle">
<text x="117.5" y="159" fill="#5a5a5a">38</text>
<text x="100" y="188.5" fill="#5a5a5a">87</text>
<text x="59.5" y="201" fill="#5a5a5a">11</text>
<text x="108" y="213" fill="#5a5a5a">44</text>
<text x="181" y="137" fill="#5a5a5a">59</text>
<text x="157" y="161" fill="#f4f4f4">100</text>
<text x="189" y="183" fill="#f4f4f4">50</text>
<text x="222" y="132.5" fill="#f4f4f4">50</text>
<text x="252.8" y="130.5" fill="#f4f4f4">30</text>
<text x="214.8" y="151" fill="#f4f4f4">20</text>
<text x="213.7" y="163.4" fill="#f4f4f4">76</text>
<text x="239.4" y="181" fill="#f4f4f4">48</text>
<text x="238.4" y="153" fill="#f4f4f4">4</text>
<text x="262" y="158" fill="#5a5a5a">52</text>
<text x="259" y="117" fill="#f4f4f4">84</text>
<text x="210.6" y="195" fill="#5a5a5a">41</text>
<text x="278.75" y="125.75" fill="#f4f4f4">83</text>
<text x="293.75" y="123" fill="#f4f4f4">106</text>
<text x="306" y="120.75" fill="#f4f4f4">27</text>
<text x="302.5" y="147" fill="#f4f4f4">9</text>
<text x="307.5" y="147" fill="#f4f4f4">4</text>
<text x="288.75" y="162" fill="#f4f4f4">73</text>
<text x="301" y="167.5" fill="#f4f4f4">85</text>
<text x="315" y="165.75" fill="#f4f4f4">86</text>
<text x="282.5" y="179.5" fill="#f4f4f4">51</text>
<text x="295" y="178" fill="#f4f4f4">79</text>
<text x="325" y="190.75" fill="#f4f4f4">40</text>
<text x="281" y="203" fill="#5a5a5a">35</text>
<text x="327.5" y="203" fill="#f4f4f4">71</text>
<text x="226" y="213" fill="#5a5a5a">2</text>
<text x="243.75" y="213" fill="#f4f4f4">57</text>
<text x="266" y="218" fill="#5a5a5a">34</text>
<text x="293.75" y="218" fill="#5a5a5a">103</text>
<text x="213.75" y="219.5" fill="#f4f4f4">50</text>
<text x="453.75" y="80.75" fill="#5a5a5a">65</text>
<text x="453.75" y="110.75" fill="#5a5a5a">57</text>
<text x="386" y="134.5" fill="#5a5a5a">5</text>
<text x="437.5" y="135.75" fill="#5a5a5a">53</text>
<text x="350" y="163" fill="#5a5a5a">31</text>
<text x="397.5" y="170.75" fill="#5a5a5a">12</text>
<text x="443.75" y="173" fill="#f4f4f4">33</text>
<text x="487.5" y="175.75" fill="#5a5a5a">8</text>
<text x="356" y="174.5" fill="#f4f4f4">72</text>
<text x="497" y="67" fill="#5a5a5a">61</text>
<text x="536" y="124" fill="#f4f4f4">96</text>
<text x="487.5" y="203" fill="#f4f4f4">85</text>
<text x="496" y="252" fill="#5a5a5a">102</text>
<text x="552.5" y="238" fill="#f4f4f4">19</text>
<text x="367.5" y="200.75" fill="#f4f4f4">97</text>
<text x="390" y="207" fill="#5a5a5a">60</text>
<text x="410" y="214.5" fill="#5a5a5a">30</text>
<text x="403.75" y="242" fill="#5a5a5a">91</text>
<text x="317.5" y="262" fill="#5a5a5a">69</text>
<text x="317.5" y="229.5" fill="#f4f4f4">42</text>
<text x="293.75" y="240.75" fill="#f4f4f4">37</text>
<text x="432.5" y="255.75" fill="#f4f4f4">43</text>
<text x="401" y="274.5" fill="#f4f4f4">17</text>
<text x="433.75" y="278" fill="#f4f4f4">81</text>
<text x="360" y="280.75" fill="#f4f4f4">104</text>
<text x="445" y="232" fill="#f4f4f4">58</text>
<text x="448.75" y="248" fill="#5a5a5a">14</text>
<text x="310" y="294.5" fill="#f4f4f4">10</text>
<text x="338.75" y="329.5" fill="#f4f4f4">75</text>
<text x="312.5" y="342" fill="#f4f4f4">16</text>
<text x="297.5" y="337" fill="#f4f4f4">94</text>
<text x="417.5" y="323" fill="#f4f4f4">22</text>
<text x="351" y="362" fill="#f4f4f4">56</text>
<text x="285" y="280.75" fill="#f4f4f4">40</text>
<text x="451" y="300.75" fill="#f4f4f4">62</text>
<text x="478.75" y="298" fill="#f4f4f4">27</text>
<text x="165" y="208" fill="#f4f4f4">101</text>
<text x="151" y="230.75" fill="#f4f4f4">28</text>
<text x="266" y="243" fill="#5a5a5a">36</text>
<text x="248.75" y="235.75" fill="#5a5a5a">15</text>
<text x="262.5" y="263" fill="#5a5a5a">60</text>
<text x="262.5" y="284.5" fill="#5a5a5a">24</text>
<text x="228.75" y="248" fill="#f4f4f4">56</text>
<text x="146" y="249.5" fill="#f4f4f4">47</text>
<text x="147.5" y="270.75" fill="#f4f4f4">43</text>
<text x="197.5" y="273" fill="#f4f4f4">82</text>
<text x="172.5" y="289.5" fill="#f4f4f4">75</text>
<text x="275" y="302" fill="#f4f4f4">76</text>
<text x="92.5" y="243" fill="#f4f4f4">48</text>
<text x="76" y="265.75" fill="#f4f4f4">39</text>
<text x="206" y="310.75" fill="#f4f4f4">66</text>
<text x="175" y="323" fill="#f4f4f4">88</text>
<text x="215" y="348" fill="#f4f4f4">98</text>
<text x="247.5" y="396" fill="#f4f4f4">79</text>
<text x="313.75" y="390" fill="#f4f4f4">56</text>
</g>
<g fill="#111" font-size="19.05" text-anchor="middle"><text x="324.6" y="30">Escenarios de Anomalías de Precipitación vs</text><text x="327.3" y="51.8">Índices Socioeconómicos</text></g>
<g fill="#111" font-size="7" text-anchor="end">
<text x="663.3" y="319" font-weight="bold" font-size="7.45">SIMBOLOGÍA</text>
<text x="663.3" y="332.2">HADCM3B11</text>
<text x="663.5" y="343.8" font-weight="bold" font-size="6.95">Precipitación (mm)</text>
<text x="644" y="355.4">Menos de -300</text>
<text x="644" y="367">-299.9 a -200</text>
<text x="644" y="378.6">-199.9 a -100</text>
<text x="644" y="390.2">-99.9 a 0</text>
<text x="644" y="401.4">0 a 15</text>
<text x="663.3" y="412.6" font-weight="bold" font-size="6.95">Grado de Pobreza de Capacidades</text>
<text x="644" y="424.3">Muy Bajo</text>
<text x="644" y="436">Bajo</text>
<text x="644" y="447.6">Medio</text>
<text x="644" y="459.2">Alto</text>
<text x="644" y="470.8">Muy Alto</text>
</g>
<clipPath id="sw1"><rect x="647.2" y="348.6" width="16.6" height="7.9"/></clipPath>
<g clip-path="url(#sw1)" stroke="#0a0a0a" stroke-width="1.25"><line x1="639" y1="357.5" x2="649" y2="347.5"/><line x1="642.7" y1="357.5" x2="652.7" y2="347.5"/><line x1="646.4" y1="357.5" x2="656.4" y2="347.5"/><line x1="650.1" y1="357.5" x2="660.1" y2="347.5"/><line x1="653.8" y1="357.5" x2="663.8" y2="347.5"/><line x1="657.5" y1="357.5" x2="667.5" y2="347.5"/><line x1="661.2" y1="357.5" x2="671.2" y2="347.5"/><line x1="664.9" y1="357.5" x2="674.9" y2="347.5"/><line x1="668.6" y1="357.5" x2="678.6" y2="347.5"/></g>
<rect x="647.2" y="360.2" width="16.6" height="7.9" fill="#fff" stroke="#c4c4c4" stroke-width="0.6"/>
<g fill="#555"><rect x="650.4" y="362" width="0.9" height="0.9"/><rect x="655.2" y="362" width="0.9" height="0.9"/><rect x="659.8" y="362" width="0.9" height="0.9"/><rect x="663" y="362" width="0.8" height="0.9"/></g>
<g stroke="#0a0a0a" stroke-width="1.15" fill="none"><rect x="647.2" y="371.6" width="16.6" height="7.9" stroke-width="0.5" stroke="#aaa"/><path d="M647.2,371.8 L655.5,379.4 M655.5,371.8 L647.2,379.4 M655.5,371.8 L663.8,379.4 M663.8,371.8 L655.5,379.4"/></g>
<rect x="647.2" y="383.4" width="16.6" height="7.9" fill="#fff" stroke="#bdbdbd" stroke-width="0.6"/>
<g stroke="#d6d6d6" stroke-width="0.6"><path d="M648,391.3 L655.8,383.5 M651.4,391.3 L659.2,383.5 M654.8,391.3 L662.6,383.5 M658.2,391.3 L663.6,385.9 M647.3,388.6 L652.4,383.5"/></g>
<rect x="647.2" y="394.8" width="16.6" height="7.9" fill="#fff"/>
<g fill="#111">
<rect x="647.9" y="394.6" width="1.2" height="1.2"/>
<rect x="652.5" y="394.6" width="1.2" height="1.2"/>
<rect x="657.1" y="394.6" width="1.2" height="1.2"/>
<rect x="661.7" y="394.6" width="1.2" height="1.2"/>
<rect x="647.9" y="398" width="1.2" height="1.2"/>
<rect x="652.5" y="398" width="1.2" height="1.2"/>
<rect x="657.1" y="398" width="1.2" height="1.2"/>
<rect x="661.7" y="398" width="1.2" height="1.2"/>
<rect x="647.9" y="401.4" width="1.2" height="1.2"/>
<rect x="652.5" y="401.4" width="1.2" height="1.2"/>
<rect x="657.1" y="401.4" width="1.2" height="1.2"/>
<rect x="661.7" y="401.4" width="1.2" height="1.2"/>
</g>
<rect x="647.2" y="417.8" width="16.6" height="7.9" fill="#5b92d2" stroke="#000" stroke-opacity="0.18" stroke-width="0.7"/>
<rect x="647.2" y="429.4" width="16.6" height="7.9" fill="#b7c4b1" stroke="#000" stroke-opacity="0.18" stroke-width="0.7"/>
<rect x="647.2" y="441" width="16.6" height="7.9" fill="#f6f67e" stroke="#000" stroke-opacity="0.18" stroke-width="0.7"/>
<rect x="647.2" y="452.7" width="16.6" height="7.9" fill="#f59c48" stroke="#000" stroke-opacity="0.18" stroke-width="0.7"/>
<rect x="647.2" y="464.3" width="16.6" height="7.9" fill="#ff0000" stroke="#000" stroke-opacity="0.18" stroke-width="0.7"/>
<g fill="#222" font-size="6.28"><text x="10.8" y="457" text-decoration="underline">Elaboró:</text><text x="10.8" y="464">Carolina Cuanalo</text><text x="10.8" y="470.8">Roger Orellana</text></g>
</svg></body></html>
